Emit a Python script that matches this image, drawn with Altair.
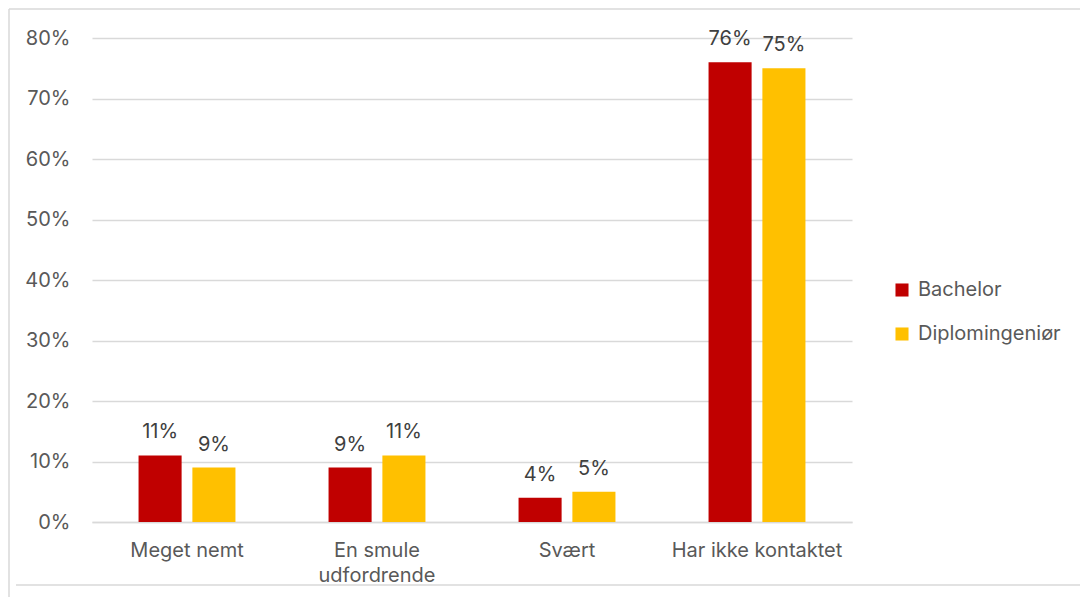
import altair as alt
import pandas as pd

categories = ["Meget nemt", "En smule udfordrende", "Svært", "Har ikke kontaktet"]
series = ["Bachelor", "Diplomingeniør"]
bachelor = [0.11, 0.09, 0.04, 0.76]
diplom = [0.09, 0.11, 0.05, 0.75]
colors = ["#C00000", "#FFC000"]

rows = []
for c, b, d in zip(categories, bachelor, diplom):
    rows.append({"cat": c, "series": series[0], "value": b})
    rows.append({"cat": c, "series": series[1], "value": d})
df = pd.DataFrame(rows)

FONT = "Inter"
FS = 20

x = alt.X("cat:N", sort=categories, title=None,
          scale=alt.Scale(paddingInner=0.49, paddingOuter=0.245),
          axis=alt.Axis(labelAngle=0, labelFontSize=FS, labelColor="#595959",
                        labelFont=FONT, ticks=False, domainColor="#d9d9d9",
                        domainWidth=1.5, labelPadding=18, labelLineHeight=25,
                        labelBaseline="top",
                        labelExpr="datum.label == 'En smule udfordrende' ? ['En smule', 'udfordrende'] : datum.label"))
xoff = alt.XOffset("series:N", sort=series,
                   scale=alt.Scale(paddingInner=0.2, paddingOuter=0))
y = alt.Y("value:Q", title=None,
          scale=alt.Scale(domain=[0, 0.8], nice=False),
          axis=alt.Axis(format=".0%", values=[i / 10 for i in range(9)],
                        labelFontSize=FS, labelColor="#595959", labelFont=FONT,
                        ticks=False, domain=False, gridColor="#d9d9d9",
                        gridWidth=1.5, labelPadding=22))
color = alt.Color("series:N", sort=series, title=None,
                  scale=alt.Scale(domain=series, range=colors),
                  legend=alt.Legend(orient="none", legendX=800, legendY=242,
                                    symbolType="square", symbolSize=170,
                                    symbolStrokeWidth=0, labelFontSize=FS,
                                    labelFont=FONT, labelColor="#595959",
                                    rowPadding=24, labelOffset=6))

base = alt.Chart(df)
bars = base.mark_bar().encode(x=x, xOffset=xoff, y=y, color=color)
labels = base.mark_text(baseline="bottom", dy=-13, fontSize=FS, font=FONT,
                        color="#404040").encode(
    x=x, xOffset=xoff, y=y, text=alt.Text("value:Q", format=".0%"))

dummy = alt.Chart(pd.DataFrame({"a": [0]}))
frame_style = dict(color="#d9d9d9", strokeWidth=1.5)
top = dummy.mark_rule(**frame_style).encode(x=alt.value(-83), x2=alt.value(1000), y=alt.value(-29))
left = dummy.mark_rule(**frame_style).encode(x=alt.value(-83), y=alt.value(-29), y2=alt.value(580))
bottom = dummy.mark_rule(**frame_style).encode(x=alt.value(-76), x2=alt.value(1000), y=alt.value(547))

chart = alt.layer(top, left, bottom, bars, labels).properties(
    width=760, height=484,
    autosize=alt.AutoSizeParams(type="none"),
    padding={"left": 84, "top": 30, "right": 228, "bottom": 75},
).configure_view(stroke=None)

chart.save("out.html", embed_options={"renderer": "svg", "actions": False})
